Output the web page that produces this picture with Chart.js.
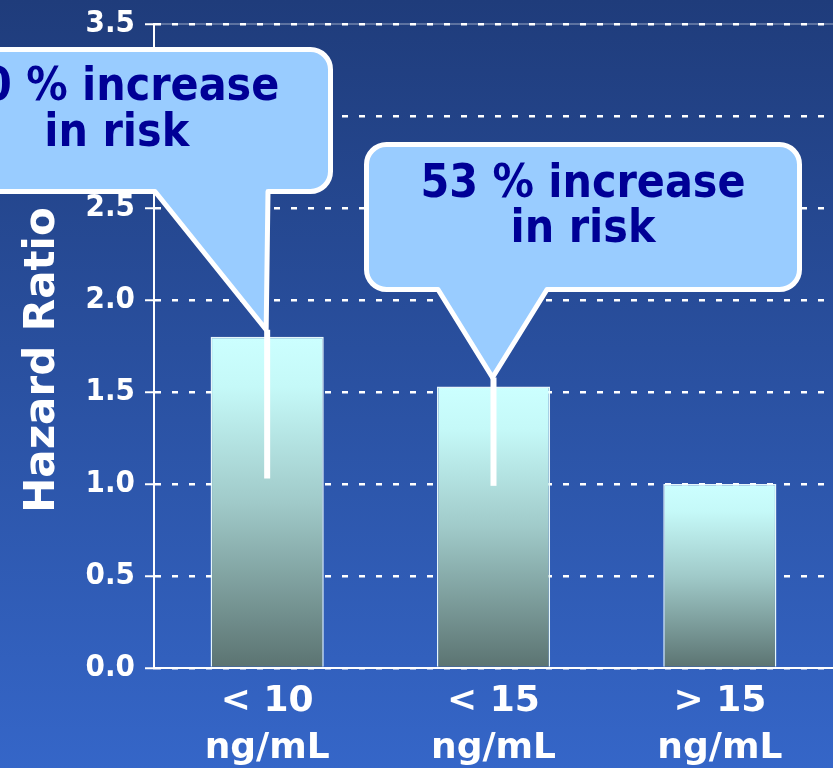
<!DOCTYPE html>
<html>
<head>
<meta charset="utf-8">
<script src="https://cdn.jsdelivr.net/npm/chart.js@4"></script>
<style>
  html, body { margin: 0; padding: 0; overflow: hidden; }
  body { width: 833px; height: 768px; background: linear-gradient(#1f3c7b, #3566c8); }
</style>
</head>
<body>
<canvas id="hrChart" width="833" height="768"></canvas>
<script>
// data
const categories = [['< 10', 'ng/mL'], ['< 15', 'ng/mL'], ['> 15', 'ng/mL']];
const hazardRatio = [1.80, 1.53, 1.00];
const ciLower = [1.03, 0.99, null];
const yTicks = [0, 0.5, 1.0, 1.5, 2.0, 2.5, 3.0, 3.5];
const calloutLines = [['80 % increase', 'in risk'], ['53 % increase', 'in risk'], null];

const FONT = '"DejaVu Sans", Verdana, sans-serif';
const FONT_NARROW = '"DejaVu Sans Condensed", "DejaVu Sans", sans-serif';

// callout boxes (pixels), pointer goes to the bar index
const calloutBoxes = [
  { x: -97, y: 49.5, w: 427.5, h: 142, r: 20, baseL: 155, baseR: 268, tipGap: 7, textY: [100, 146] },
  { x: 366.5, y: 144.5, w: 433, h: 145, r: 20, baseL: 438, baseR: 547, tipGap: 9, textY: [197, 242] }
];

function barGradient(context) {
  const chart = context.chart;
  const y = chart.scales.y;
  if (!chart.chartArea || !y) return '#a8d8d8';
  const top = y.getPixelForValue(context.raw);
  const bottom = y.getPixelForValue(0);
  const g = chart.ctx.createLinearGradient(0, top, 0, bottom);
  g.addColorStop(0, '#ccffff');
  g.addColorStop(0.15, '#c5f9f8');
  g.addColorStop(0.5, '#a0cac9');
  g.addColorStop(1, '#5b7371');
  return g;
}

const overlay = {
  id: 'overlay',
  beforeDatasetsDraw(chart) {
    // faint solid line under the top dashed grid line
    const ctx = chart.ctx, a = chart.chartArea;
    const yTop = chart.scales.y.getPixelForValue(yTicks[yTicks.length - 1]);
    ctx.save();
    ctx.strokeStyle = 'rgba(255,255,255,0.55)';
    ctx.lineWidth = 1;
    ctx.beginPath();
    ctx.moveTo(a.left, yTop);
    ctx.lineTo(a.right, yTop);
    ctx.stroke();
    ctx.restore();
  },
  afterDraw(chart) {
    const ctx = chart.ctx;
    const xs = chart.scales.x, ys = chart.scales.y;

    // y title
    ctx.save();
    ctx.translate(54, 360);
    ctx.rotate(-Math.PI / 2);
    ctx.fillStyle = '#ffffff';
    ctx.font = 'bold 42px ' + FONT;
    ctx.textAlign = 'center';
    ctx.textBaseline = 'alphabetic';
    ctx.fillText('Hazard Ratio', 0, 0);
    ctx.restore();

    calloutBoxes.forEach((c, i) => {
      const cx = xs.getPixelForValue(i);
      const tipY = ys.getPixelForValue(hazardRatio[i]) - c.tipGap;

      // lower part of the CI whisker
      ctx.save();
      ctx.strokeStyle = '#ffffff';
      ctx.lineWidth = 6;
      ctx.beginPath();
      ctx.moveTo(cx, ys.getPixelForValue(ciLower[i]));
      ctx.lineTo(cx, tipY);
      ctx.stroke();

      // bubble with pointer
      const { x, y, w, h, r } = c;
      ctx.beginPath();
      ctx.moveTo(x + r, y);
      ctx.lineTo(x + w - r, y);
      ctx.arcTo(x + w, y, x + w, y + r, r);
      ctx.lineTo(x + w, y + h - r);
      ctx.arcTo(x + w, y + h, x + w - r, y + h, r);
      ctx.lineTo(c.baseR, y + h);
      ctx.lineTo(cx - 1, tipY);
      ctx.lineTo(c.baseL, y + h);
      ctx.lineTo(x + r, y + h);
      ctx.arcTo(x, y + h, x, y + h - r, r);
      ctx.lineTo(x, y + r);
      ctx.arcTo(x, y, x + r, y, r);
      ctx.closePath();
      ctx.fillStyle = '#99ccff';
      ctx.fill();
      ctx.lineWidth = 5;
      ctx.lineJoin = 'round';
      ctx.stroke();

      ctx.fillStyle = '#000096';
      ctx.font = 'bold 46px ' + FONT_NARROW;
      ctx.textAlign = 'center';
      ctx.textBaseline = 'alphabetic';
      const mid = x + w / 2;
      calloutLines[i].forEach((t, k) => ctx.fillText(t, mid, c.textY[k]));
      ctx.restore();
    });
  }
};

new Chart(document.getElementById('hrChart'), {
  type: 'bar',
  data: {
    labels: categories,
    datasets: [{
      data: hazardRatio,
      backgroundColor: barGradient,
      borderColor: 'rgba(240,255,255,0.95)',
      borderWidth: 1.5,
      borderSkipped: 'start',
      barPercentage: 0.5,
      categoryPercentage: 1
    }]
  },
  options: {
    responsive: false,
    animation: false,
    devicePixelRatio: 1,
    layout: { padding: { top: 24, left: 0, right: 0, bottom: 0 } },
    plugins: { legend: { display: false }, tooltip: { enabled: false } },
    scales: {
      x: {
        afterFit: s => { s.height = 100; },
        grid: { display: false },
        border: { display: true, color: '#ffffff', width: 2 },
        ticks: {
          color: '#ffffff',
          padding: 2,
          font: { family: FONT, size: 36, weight: 'bold', lineHeight: 1.3 }
        }
      },
      y: {
        min: 0,
        max: 3.5,
        afterFit: s => { s.width = 154; s.paddingTop = 0; s.paddingBottom = 0; },
        afterBuildTicks: s => { s.ticks = yTicks.map(v => ({ value: v })); },
        grid: {
          color: '#ffffff',
          lineWidth: 2.5,
          tickLength: 9,
          tickColor: '#ffffff',
          tickWidth: 2
        },
        border: { display: true, color: '#ffffff', width: 2, dash: [6, 11] },
        ticks: {
          color: '#ffffff',
          padding: 10,
          font: { family: FONT_NARROW, size: 31, weight: 'bold' },
          callback: v => Number(v).toFixed(1)
        }
      }
    }
  },
  plugins: [overlay]
});
</script>
</body>
</html>
